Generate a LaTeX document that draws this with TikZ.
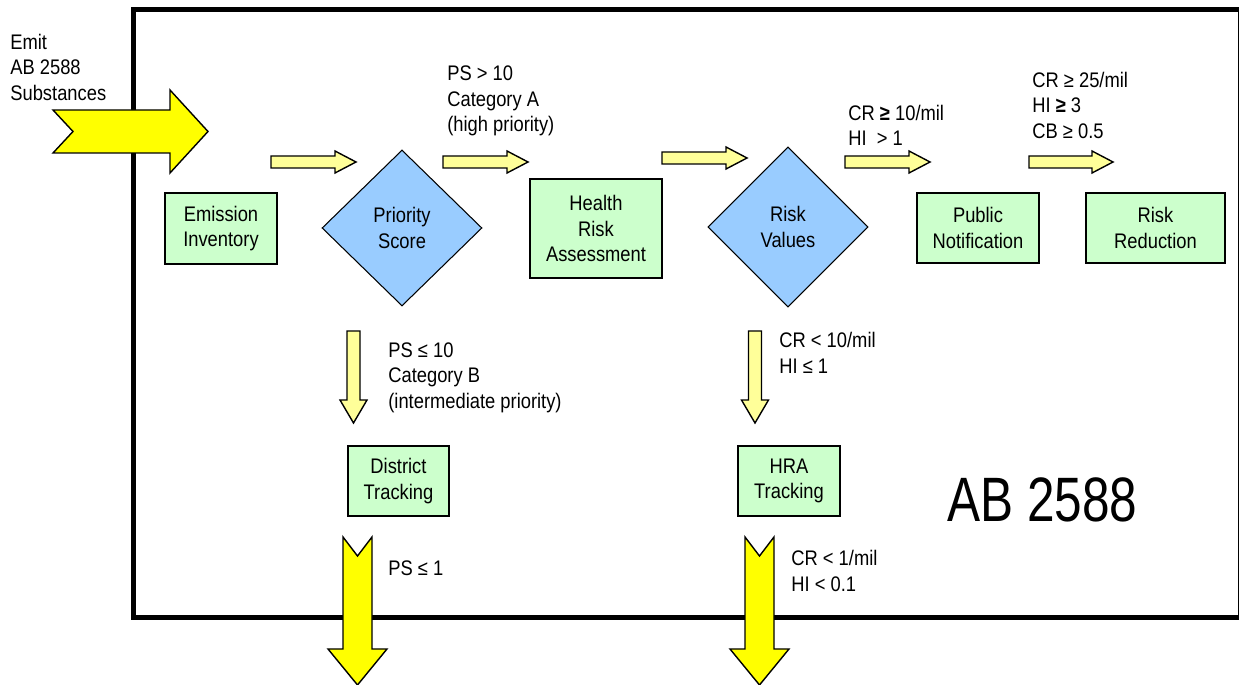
\documentclass[tikz,border=0pt]{standalone}
\usepackage{fontspec}
\setmainfont[FakeStretch=0.87]{Liberation Sans}
\newfontfamily\bigfont[FakeStretch=0.79]{Liberation Sans}
\usetikzlibrary{shapes.geometric}

\definecolor{boxgreen}{HTML}{CCFFCC}
\definecolor{decblue}{HTML}{99CCFF}
\definecolor{paleyellow}{HTML}{FFFF99}
\definecolor{flowyellow}{HTML}{FFFF00}

% small flow arrow to the right: tail x, tip x, y
\newcommand{\flowright}[3]{%
\draw[smallarrow] (#1,#3-6) -- (#2-21,#3-6) -- (#2-21,#3-11) -- (#2,#3)
  -- (#2-21,#3+11) -- (#2-21,#3+6) -- (#1,#3+6) -- cycle;}
% small flow arrow downwards: x, tail y, tip y
\newcommand{\flowdown}[3]{%
\draw[smallarrow] (#1-6.5,#2) -- (#1+6.5,#2) -- (#1+6.5,#3-23) -- (#1+13.5,#3-23)
  -- (#1,#3) -- (#1-13.5,#3-23) -- (#1-6.5,#3-23) -- cycle;}
% notched exit arrow downwards: x, top y
\newcommand{\exitdown}[2]{%
\draw[bigarrow] (#1-14.5,#2) -- (#1,#2+19) -- (#1+14.5,#2) -- (#1+14.5,#2+112)
  -- (#1+29.5,#2+112) -- (#1,#2+148) -- (#1-29.5,#2+112) -- (#1-14.5,#2+112) -- cycle;}

\begin{document}
\begin{tikzpicture}[x=0.02cm,y=-0.02cm,
  font=\fontsize{12pt}{14.5pt}\selectfont,
  box/.style={draw, fill=boxgreen, line width=0.8pt, align=center, inner sep=0pt},
  decision/.style={diamond, draw, fill=decblue, line width=0.6pt, align=center, inner sep=0pt},
  smallarrow/.style={draw, fill=paleyellow, line width=0.8pt},
  bigarrow/.style={draw, fill=flowyellow, line width=0.8pt},
  cond/.style={anchor=west, align=left, inner sep=0pt}]
\useasboundingbox (0,0) rectangle (1242,685);

% frame
\draw[line width=0.1cm] (1238.5,9.5) -- (133.5,9.5) -- (133.5,617.5) -- (1238.5,617.5);
\draw[line width=0.5pt] (1238.5,9.5) -- (1238.5,617.5);

% input
\node[cond] (emit) at (10,67) {Emit\\AB 2588\\Substances};
\draw[bigarrow] (53,110) -- (170,110) -- (170,90) -- (208,131.5) -- (170,173)
  -- (170,153) -- (53,153) -- (73,131.5) -- cycle;

% main row
\node[box, minimum width=2.24cm, minimum height=1.42cm] (emis) at (221,228.5) {Emission\\Inventory};
\node[decision, minimum width=3.2cm, minimum height=3.12cm] (prio) at (402,228) {Priority\\Score};
\node[box, minimum width=2.64cm, minimum height=1.98cm] (hra) at (596,228.5) {Health\\Risk\\Assessment};
\node[decision, minimum width=3.2cm, minimum height=3.2cm] (riskv) at (788,227) {Risk\\Values};
\node[box, minimum width=2.44cm, minimum height=1.4cm] (pub) at (978,228) {Public\\Notification};
\node[box, minimum width=2.78cm, minimum height=1.4cm] (red) at (1155.5,228) {Risk\\Reduction};

\flowright{271}{356}{162}
\flowright{443}{528}{162}
\flowright{662}{747}{158}
\flowright{845}{930}{162}
\flowright{1029}{1113}{162}

\node[cond] (catA) at (447,101) {PS > 10\\Category A\\(high priority)};
\node[cond] (cr10) at (848,125.5) {CR \textbf{≥} 10/mil\\HI \ > 1};
\node[cond] (cr25) at (1032,105) {CR ≥ 25/mil\\HI \textbf{≥} 3\\CB ≥ 0.5};

% lower branches
\flowdown{353.5}{331}{423}
\flowdown{755}{331}{423}
\node[cond] (catB) at (388,377.5) {PS ≤ 10\\Category B\\(intermediate priority)};
\node[cond] (crlt10) at (779,353) {CR < 10/mil\\HI ≤ 1};

\node[box, minimum width=2.02cm, minimum height=1.4cm] (dist) at (398.5,481) {District\\Tracking};
\node[box, minimum width=2.04cm, minimum height=1.4cm] (hratr) at (789,481) {HRA\\Tracking};

\exitdown{357.5}{537}
\exitdown{759.5}{537}
\node[cond] (ps1) at (388,568) {PS ≤ 1};
\node[cond] (crlt1) at (791,571) {CR < 1/mil\\HI < 0.1};

\node[anchor=base west, inner sep=0pt, font=\bigfont\fontsize{35.7pt}{40pt}\selectfont] (title) at (947,522) {AB 2588};

\end{tikzpicture}
\end{document}
